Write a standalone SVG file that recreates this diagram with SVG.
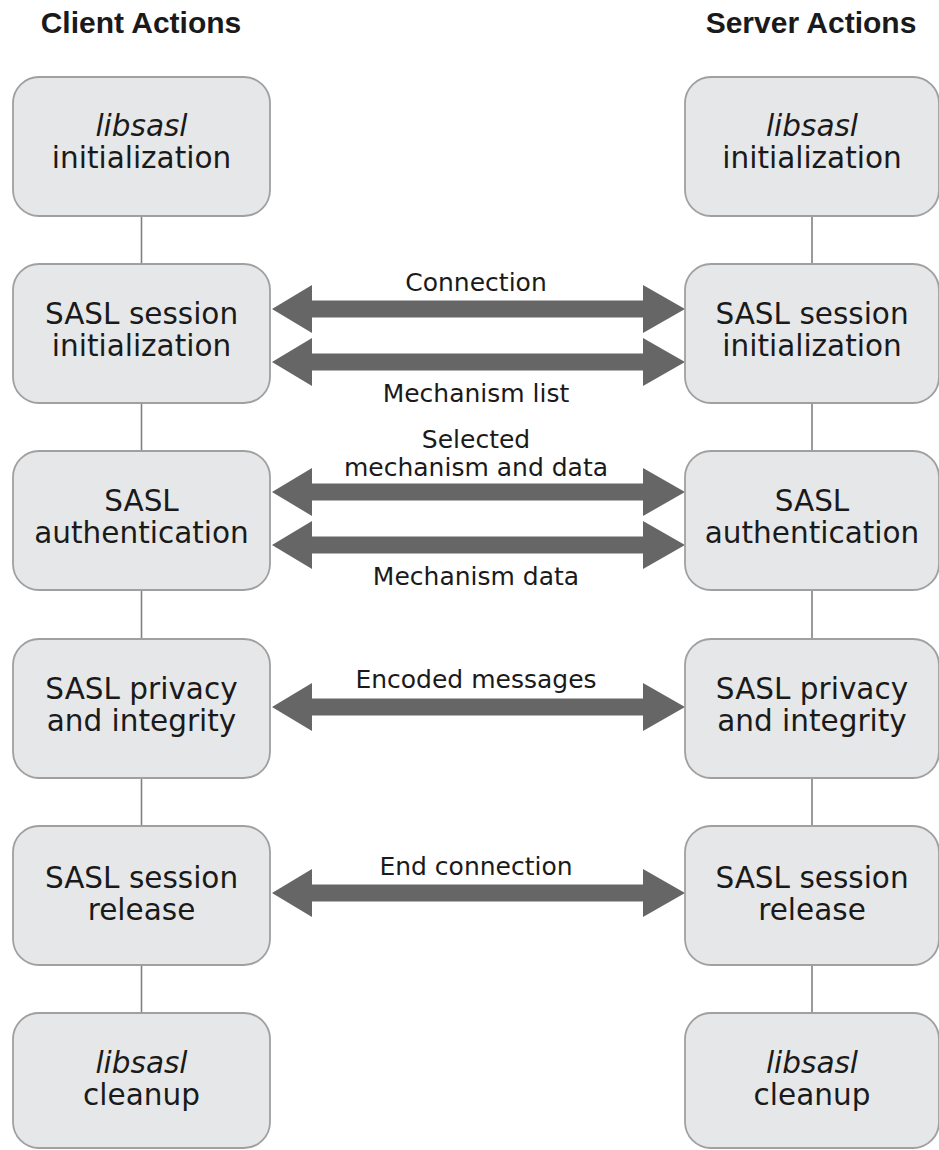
<svg xmlns="http://www.w3.org/2000/svg" xmlns:xlink="http://www.w3.org/1999/xlink" width="939" height="1150" viewBox="0 0 939 1150">
<style>
.title{font-family:"Liberation Sans",Arial,sans-serif;font-weight:bold;font-size:30px;fill:#1a1a1a;text-anchor:middle}
.box{fill:#e6e7e8;stroke:#a0a0a0;stroke-width:1.8}
.bt{font-family:"DejaVu Sans","Liberation Sans",sans-serif;font-size:29.5px;fill:#1a1a1a;text-anchor:middle}
.it{font-style:italic}
.lbl{font-family:"DejaVu Sans","Liberation Sans",sans-serif;font-size:25px;fill:#1a1a1a;text-anchor:middle}
.vl{stroke:#808080;stroke-width:1.6;fill:none}
.arr{fill:#666666}
</style>
<defs>
<path id="dbl" class="arr" d="M272,0 L312,-24 L312,-8.5 L643,-8.5 L643,-24 L685,0 L643,24 L643,8.5 L312,8.5 L312,24 Z"/>
</defs>
<rect width="939" height="1150" fill="#ffffff"/>
<text class="title" x="141" y="33">Client Actions</text>
<text class="title" x="811" y="33">Server Actions</text>

<g id="connectors">
<line class="vl" x1="141.5" y1="216" x2="141.5" y2="264"/>
<line class="vl" x1="141.5" y1="403" x2="141.5" y2="451"/>
<line class="vl" x1="141.5" y1="590" x2="141.5" y2="639"/>
<line class="vl" x1="141.5" y1="778" x2="141.5" y2="826"/>
<line class="vl" x1="141.5" y1="965" x2="141.5" y2="1013"/>
<line class="vl" x1="812" y1="216" x2="812" y2="264"/>
<line class="vl" x1="812" y1="403" x2="812" y2="451"/>
<line class="vl" x1="812" y1="590" x2="812" y2="639"/>
<line class="vl" x1="812" y1="778" x2="812" y2="826"/>
<line class="vl" x1="812" y1="965" x2="812" y2="1013"/>
<use xlink:href="#dbl" y="309"/>
<use xlink:href="#dbl" y="362"/>
<use xlink:href="#dbl" y="492"/>
<use xlink:href="#dbl" y="545"/>
<use xlink:href="#dbl" y="707"/>
<use xlink:href="#dbl" y="893"/>
<text class="lbl" x="476" y="291">Connection</text>
<text class="lbl" x="476" y="402">Mechanism list</text>
<text class="lbl" x="476" y="448">Selected<tspan x="476" y="476">mechanism and data</tspan></text>
<text class="lbl" x="476" y="585">Mechanism data</text>
<text class="lbl" x="476" y="688">Encoded messages</text>
<text class="lbl" x="476" y="875">End connection</text>
</g>

<g id="c1"><rect class="box" x="13" y="77" width="257" height="139" rx="26"/><text class="bt" x="141.5" y="136"><tspan class="it">libsasl</tspan><tspan x="141.5" y="168">initialization</tspan></text></g>
<g id="c2"><rect class="box" x="13" y="264" width="257" height="139" rx="26"/><text class="bt" x="141.5" y="324">SASL session<tspan x="141.5" y="356">initialization</tspan></text></g>
<g id="c3"><rect class="box" x="13" y="451" width="257" height="139" rx="26"/><text class="bt" x="141.5" y="511">SASL<tspan x="141.5" y="543">authentication</tspan></text></g>
<g id="c4"><rect class="box" x="13" y="639" width="257" height="139" rx="26"/><text class="bt" x="141.5" y="699">SASL privacy<tspan x="141.5" y="731">and integrity</tspan></text></g>
<g id="c5"><rect class="box" x="13" y="826" width="257" height="139" rx="26"/><text class="bt" x="141.5" y="888">SASL session<tspan x="141.5" y="920">release</tspan></text></g>
<g id="c6"><rect class="box" x="13" y="1013" width="257" height="135" rx="26"/><text class="bt" x="141.5" y="1073"><tspan class="it">libsasl</tspan><tspan x="141.5" y="1105">cleanup</tspan></text></g>

<g id="s1"><rect class="box" x="685" y="77" width="254" height="139" rx="26"/><text class="bt" x="812" y="136"><tspan class="it">libsasl</tspan><tspan x="812" y="168">initialization</tspan></text></g>
<g id="s2"><rect class="box" x="685" y="264" width="254" height="139" rx="26"/><text class="bt" x="812" y="324">SASL session<tspan x="812" y="356">initialization</tspan></text></g>
<g id="s3"><rect class="box" x="685" y="451" width="254" height="139" rx="26"/><text class="bt" x="812" y="511">SASL<tspan x="812" y="543">authentication</tspan></text></g>
<g id="s4"><rect class="box" x="685" y="639" width="254" height="139" rx="26"/><text class="bt" x="812" y="699">SASL privacy<tspan x="812" y="731">and integrity</tspan></text></g>
<g id="s5"><rect class="box" x="685" y="826" width="254" height="139" rx="26"/><text class="bt" x="812" y="888">SASL session<tspan x="812" y="920">release</tspan></text></g>
<g id="s6"><rect class="box" x="685" y="1013" width="254" height="135" rx="26"/><text class="bt" x="812" y="1073"><tspan class="it">libsasl</tspan><tspan x="812" y="1105">cleanup</tspan></text></g>
</svg>
